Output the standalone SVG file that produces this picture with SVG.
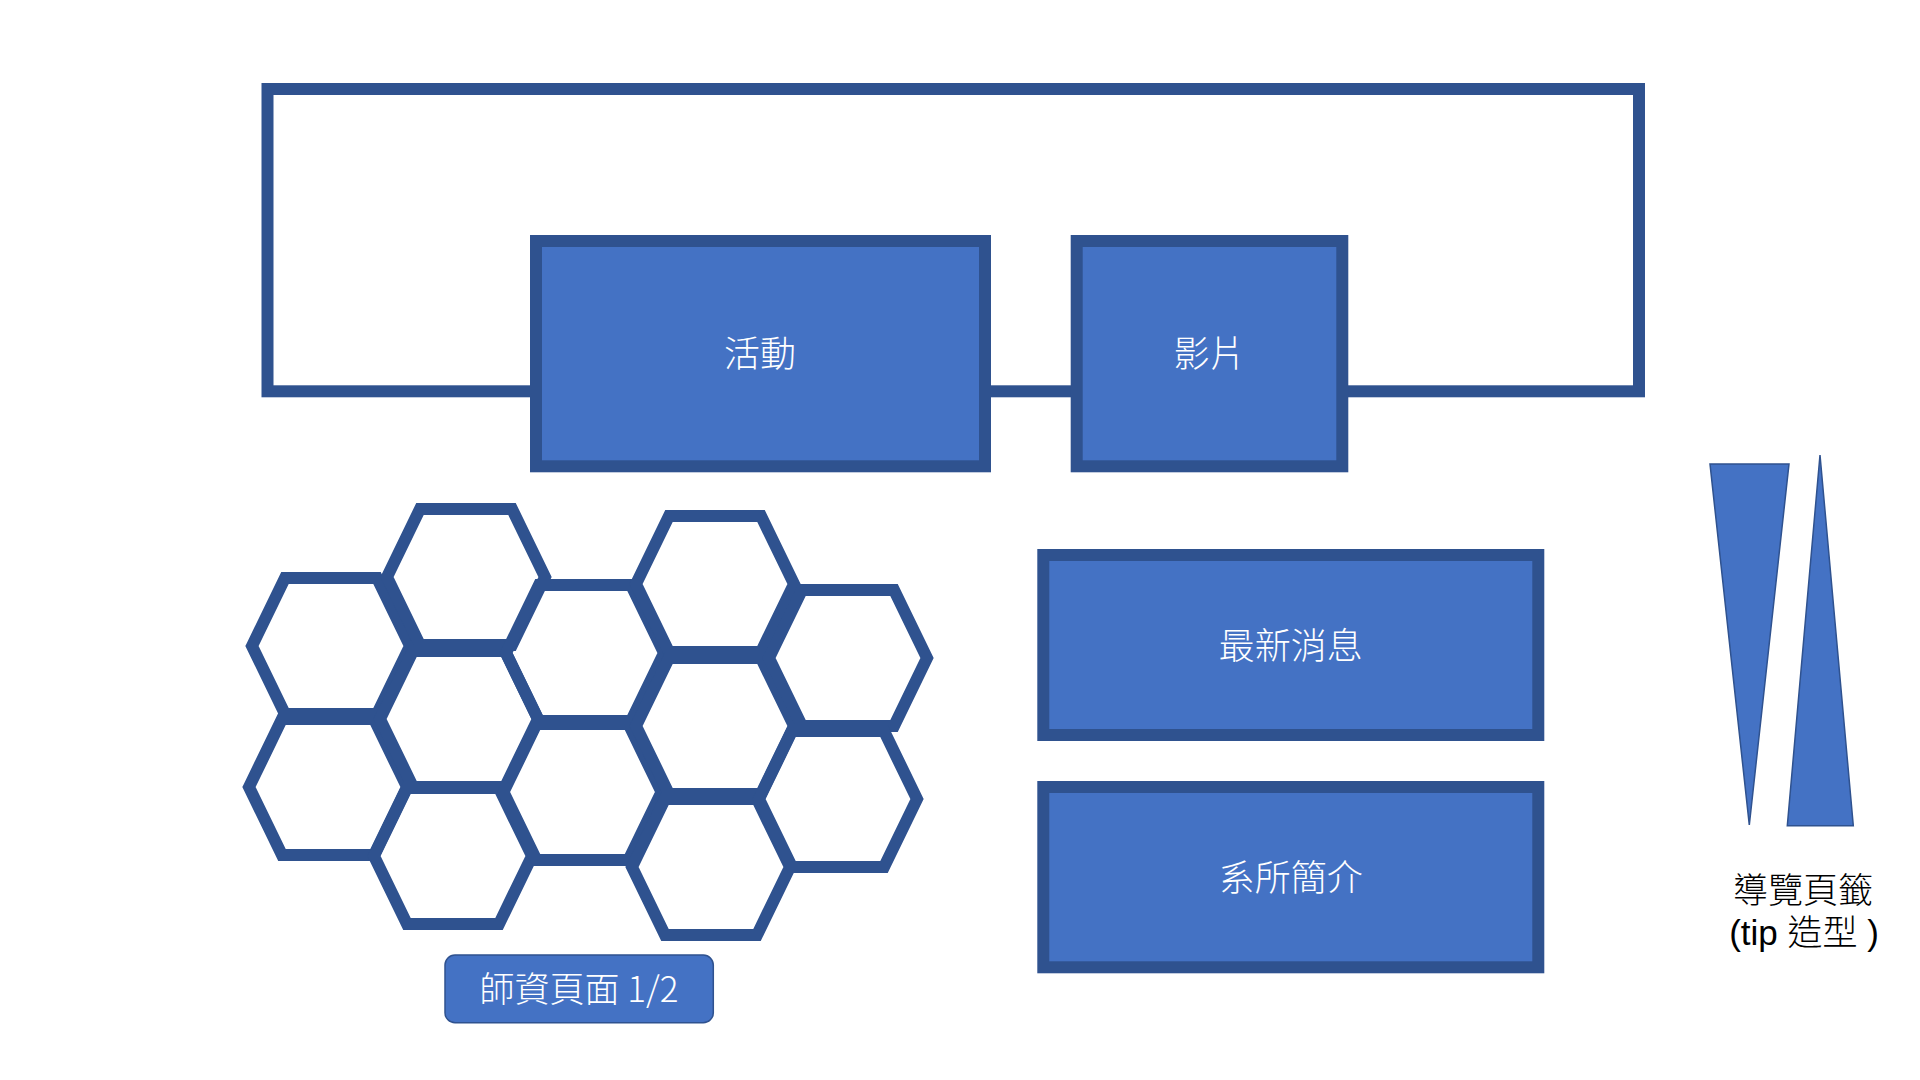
<svg xmlns="http://www.w3.org/2000/svg" width="1920" height="1080" viewBox="0 0 1920 1080">
<defs>
<style>
.frame{fill:none;stroke:#2F528F;stroke-width:12}
.box{fill:#4472C4;stroke:#2F528F;stroke-width:12}
.hex{fill:none;stroke:#2F528F;stroke-width:12;stroke-linejoin:miter}
.tri{fill:#4472C4;stroke:#2F528F;stroke-width:1.5}
.pill{fill:#4472C4;stroke:#2F528F;stroke-width:1.5}
.lbl{font-family:"Noto Sans CJK TC","Noto Sans CJK SC",sans-serif;font-weight:300;font-size:36px;fill:#FFFFFF;text-anchor:middle}
.cap{font-family:"Liberation Sans","Noto Sans CJK TC",sans-serif;font-weight:300;font-size:35px;fill:#000000;text-anchor:middle}
</style>
<path id="hx" d="M-79,0 L-46,-68 L46,-68 L79,0 L46,68 L-46,68 Z"/>
</defs>
<rect width="1920" height="1080" fill="#FFFFFF"/>
<g id="connectors">
<rect class="frame" x="267.5" y="89" width="1371.5" height="302.3"/>
</g>
<g id="node-huodong">
<rect class="box" x="536" y="241" width="449" height="225.3"/>
<text class="lbl" x="760" y="366.7">活動</text>
</g>
<g id="node-yingpian">
<rect class="box" x="1076.7" y="241" width="265.6" height="225.3"/>
<text class="lbl" x="1209.5" y="366.7">影片</text>
</g>
<g id="node-news">
<rect class="box" x="1043.3" y="555" width="495" height="180"/>
<text class="lbl" x="1290.8" y="658.7">最新消息</text>
</g>
<g id="node-intro">
<rect class="box" x="1043.3" y="787" width="495" height="180.3"/>
<text class="lbl" x="1290.8" y="890.7">系所簡介</text>
</g>
<g id="node-hexagons">
<use href="#hx" class="hex" transform="translate(331,646)"/>
<use href="#hx" class="hex" transform="translate(328,787)"/>
<use href="#hx" class="hex" transform="translate(466,577)"/>
<use href="#hx" class="hex" transform="translate(459,719)"/>
<use href="#hx" class="hex" transform="translate(453,856)"/>
<use href="#hx" class="hex" transform="translate(585,653)"/>
<use href="#hx" class="hex" transform="translate(582.5,792)"/>
<use href="#hx" class="hex" transform="translate(715,584)"/>
<use href="#hx" class="hex" transform="translate(715,726)"/>
<use href="#hx" class="hex" transform="translate(711,867)"/>
<use href="#hx" class="hex" transform="translate(848,658)"/>
<use href="#hx" class="hex" transform="translate(838,799)"/>
</g>
<g id="node-teachers">
<rect class="pill" x="445" y="955" width="268.3" height="67.7" rx="10" ry="10"/>
<text class="lbl" x="579" y="1001.5" style="font-size:35px">師資頁面 1/2</text>
</g>
<g id="node-tabs">
<polygon class="tri" points="1710,464 1789,464 1749.3,825"/>
<polygon class="tri" points="1820,455 1853.3,825.7 1787.3,825.7"/>
<text class="cap" x="1803" y="902.7">導覽頁籤</text>
<text class="cap" x="1804" y="945">(tip 造型 )</text>
</g>
</svg>
